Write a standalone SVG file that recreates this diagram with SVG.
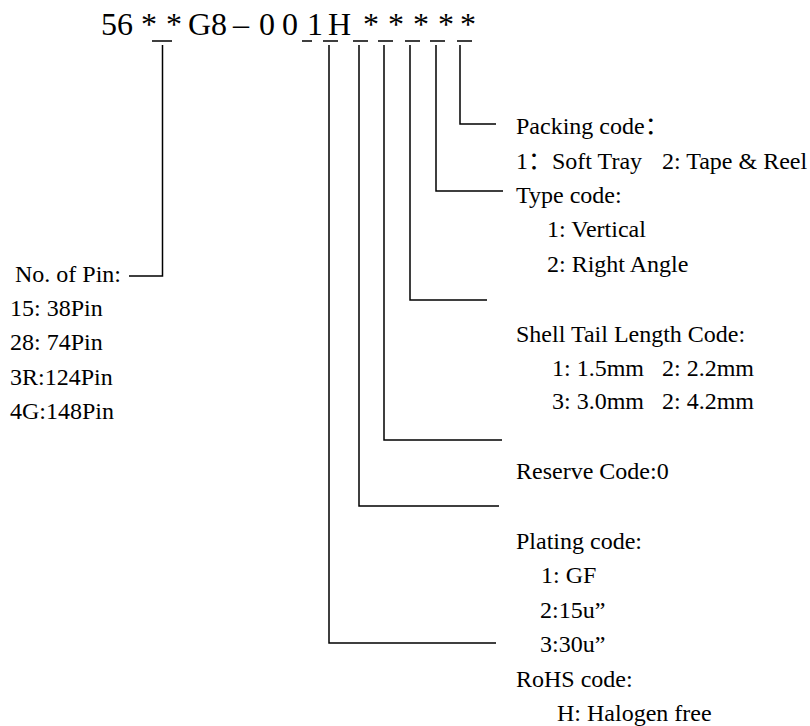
<svg xmlns="http://www.w3.org/2000/svg" width="810" height="726" viewBox="0 0 810 726">
<style>
text{font-family:"Liberation Serif","Times New Roman","Noto Sans CJK SC",serif;fill:#000;}
.t{font-size:24px;}
.title{font-size:32px;}
.ln{stroke:#000;stroke-width:1.5;fill:none;}
</style>
<rect width="810" height="726" fill="#fff"/>
<g id="title">
<text class="title" y="35"><tspan x="101">56</tspan><tspan x="141">*</tspan><tspan x="166">*</tspan><tspan x="188">G8</tspan><tspan x="233">–</tspan><tspan x="259">0</tspan><tspan x="282">0</tspan><tspan x="307">1</tspan><tspan x="328">H</tspan><tspan x="363">*</tspan><tspan x="388">*</tspan><tspan x="413">*</tspan><tspan x="438">*</tspan><tspan x="460">*</tspan></text>
</g>
<g id="connectors">
<path class="ln" d="M152 41H172M302 41H312M323 41H338M353 41H368M378 41H393M405 41H420M430 41H445M457 41H472"/>
<path class="ln" d="M162.5 45V276H129"/>
<path class="ln" d="M329 45V643H496"/>
<path class="ln" d="M359 45V506H499"/>
<path class="ln" d="M384 45V440H502"/>
<path class="ln" d="M410 45V300H487"/>
<path class="ln" d="M436 45V191H503"/>
<path class="ln" d="M460 45V124H496"/>
</g>
<g id="pin">
<text class="t" x="15" y="282">No. of  Pin:</text>
<text class="t" x="10" y="316">15: 38Pin</text>
<text class="t" x="10" y="350">28: 74Pin</text>
<text class="t" x="10" y="385">3R:124Pin</text>
<text class="t" x="10" y="419">4G:148Pin</text>
</g>
<g id="packing">
<text class="t" x="516" y="134">Packing code：</text>
<text class="t" y="169"><tspan x="516">1：</tspan><tspan x="552">Soft Tray</tspan><tspan x="662">2: Tape &amp; Reel</tspan></text>
</g>
<g id="type">
<text class="t" x="516" y="203">Type code:</text>
<text class="t" x="547" y="237">1: Vertical</text>
<text class="t" x="547" y="272">2: Right Angle</text>
</g>
<g id="shell">
<text class="t" x="516" y="342">Shell Tail Length Code:</text>
<text class="t" y="376"><tspan x="552">1: 1.5mm</tspan><tspan x="662">2: 2.2mm</tspan></text>
<text class="t" y="409"><tspan x="552">3: 3.0mm</tspan><tspan x="662">2: 4.2mm</tspan></text>
</g>
<g id="reserve">
<text class="t" x="516" y="479">Reserve Code:0</text>
</g>
<g id="plating">
<text class="t" x="516" y="549">Plating code:</text>
<text class="t" x="541" y="583">1: GF</text>
<text class="t" x="540" y="618">2:15u”</text>
<text class="t" x="540" y="652">3:30u”</text>
</g>
<g id="rohs">
<text class="t" x="516" y="687">RoHS code:</text>
<text class="t" x="557" y="721">H: Halogen free</text>
</g>
</svg>
